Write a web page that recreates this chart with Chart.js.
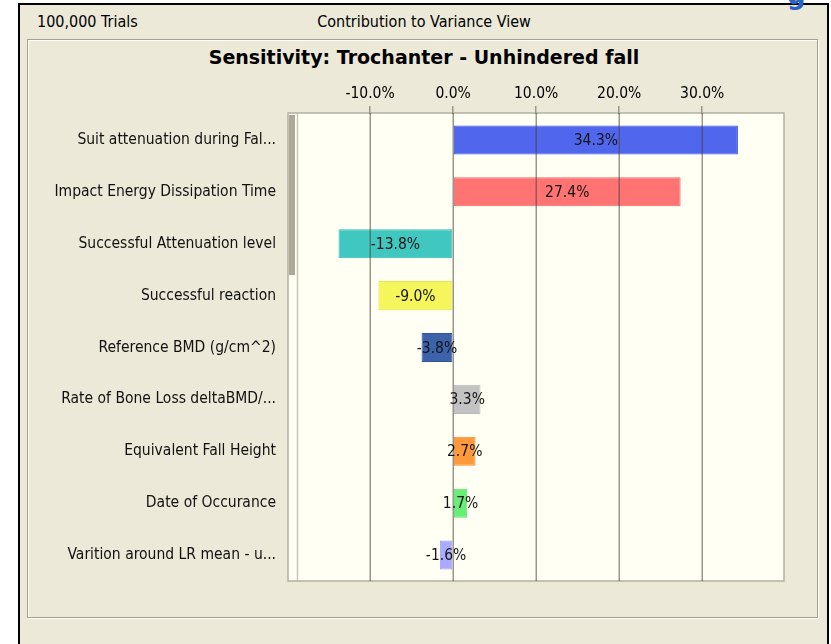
<!DOCTYPE html>
<html>
<head>
<meta charset="utf-8">
<script src="https://cdn.jsdelivr.net/npm/chart.js@4.4.1/dist/chart.umd.min.js"></script>
<style>
  html, body { margin: 0; padding: 0; width: 831px; height: 644px; overflow: hidden; background: #fff; }
  .abs { position: absolute; }
  #frame { left: 18px; top: 3px; width: 807px; height: 700px; border: 2px solid #000; background: #ECE9D8; }
  #heading { left: 787px; top: -20px; font: bold 26px "DejaVu Sans", sans-serif; color: #2B63C4; }
  .hdr { top: 12px; font: 16px "DejaVu Sans Condensed", "DejaVu Sans", sans-serif; color: #000; white-space: nowrap; }
  #trials { left: 37px; }
  #view { left: 224px; width: 400px; text-align: center; }
  #panel { left: 27px; top: 39px; width: 789px; height: 577px; border: 1px solid #A5A292; box-shadow: inset 1px 1px 0 #fff, 1px 1px 0 #fff; }
  #title { left: 124px; width: 600px; top: 46px; text-align: center; font: bold 19px "DejaVu Sans", sans-serif; color: #000; white-space: nowrap; }
  #wrap { left: 28px; top: 40px; width: 792px; height: 577px; }
</style>
</head>
<body>
<div id="frame" class="abs"></div>
<div id="heading" class="abs">g</div>
<div id="trials" class="abs hdr">100,000 Trials</div>
<div id="view" class="abs hdr">Contribution to Variance View</div>
<div id="panel" class="abs"></div>
<div id="title" class="abs">Sensitivity: Trochanter - Unhindered fall</div>
<div id="wrap" class="abs"><canvas id="chart" width="792" height="577"></canvas></div>
<script>
// Assumptions ranked by contribution to variance
const assumptions = [
  "Suit attenuation during Fal...",
  "Impact Energy Dissipation Time",
  "Successful Attenuation level",
  "Successful reaction",
  "Reference BMD (g/cm^2)",
  "Rate of Bone Loss deltaBMD/...",
  "Equivalent Fall Height",
  "Date of Occurance",
  "Varition around LR mean - u..."
];
const contribution = [34.3, 27.4, -13.8, -9.0, -3.8, 3.3, 2.7, 1.7, -1.6];
const barColors = ["#5066EC", "#FF7373", "#40C8C0", "#F5F55C", "#3C62AA", "#C3C3C3", "#FF9A3C", "#66EE77", "#AAAAFF"];
const barEdges  = ["#3E52E2", "#F06666", "#36BBB3", "#E8E850", "#30559E", "#B8B8B8", "#F08C30", "#5AE26A", "#9C9CF2"];
const tickValues = [-10, 0, 10, 20, 30];
const axisMin = -18.8, axisMax = 39.85;

const FONT = '"DejaVu Sans Condensed", "DejaVu Sans", sans-serif';
const pct = v => v.toFixed(1) + '%';

// Cream plot background, left scroll strip and frame around the plot
const plotBackground = {
  id: 'plotBackground',
  beforeDraw(chart) {
    const { ctx, chartArea: a } = chart;
    const top = a.top - 1;
    ctx.save();
    ctx.fillStyle = '#FFFFF3';
    ctx.fillRect(a.left - 9, top, a.right - a.left + 9, a.bottom - top);
    ctx.fillStyle = '#ADA998';
    ctx.fillRect(a.left - 8, top + 2, 6, 160);
    ctx.strokeStyle = '#C9C6B8';
    ctx.lineWidth = 1.5;
    ctx.beginPath();
    ctx.moveTo(a.left + 0.5, top);
    ctx.lineTo(a.left + 0.5, a.bottom);
    ctx.stroke();
    ctx.strokeStyle = '#B3B0A2';
    ctx.lineWidth = 1.5;
    ctx.strokeRect(a.left - 9, top, a.right - a.left + 9, a.bottom - top);
    ctx.restore();
  }
};

// Vertical grid over the bars, then the value printed in each bar
const gridAndValues = {
  id: 'gridAndValues',
  afterDatasetsDraw(chart) {
    const { ctx, chartArea: a } = chart;
    const xs = chart.scales.x;
    ctx.save();
    ctx.strokeStyle = 'rgba(70,66,52,0.55)';
    ctx.lineWidth = 1.5;
    tickValues.forEach(v => {
      const x = Math.round(xs.getPixelForValue(v)) + 0.25;
      ctx.beginPath();
      ctx.moveTo(x, a.top - 1);
      ctx.lineTo(x, a.bottom);
      ctx.stroke();
    });
    ctx.fillStyle = '#151515';
    ctx.font = '15.5px ' + FONT;
    ctx.textAlign = 'center';
    ctx.textBaseline = 'middle';
    chart.getDatasetMeta(0).data.forEach((bar, i) => {
      const cx = (bar.x + bar.base) / 2;
      ctx.fillText(pct(contribution[i]), cx, bar.y + 1);
    });
    ctx.restore();
  }
};

new Chart(document.getElementById('chart'), {
  type: 'bar',
  data: {
    labels: assumptions,
    datasets: [{
      data: contribution,
      backgroundColor: barColors,
      borderColor: barEdges,
      borderWidth: 1,
      borderSkipped: false,
      barPercentage: 0.56,
      categoryPercentage: 1.0
    }]
  },
  options: {
    indexAxis: 'y',
    responsive: false,
    animation: false,
    layout: { padding: { left: 0, right: 36, top: 0, bottom: 36 } },
    plugins: { legend: { display: false }, tooltip: { enabled: false }, title: { display: false } },
    scales: {
      x: {
        position: 'top',
        min: axisMin,
        max: axisMax,
        afterBuildTicks: s => { s.ticks = tickValues.map(v => ({ value: v })); },
        afterFit: s => { s.height = 74; },
        grid: { drawOnChartArea: false, drawTicks: true, tickLength: 8, color: '#9A978A', lineWidth: 1.5 },
        border: { display: false },
        ticks: { callback: v => pct(v), color: '#000', padding: 3, font: { family: FONT, size: 15.5 }, maxRotation: 0 }
      },
      y: {
        afterFit: s => { s.width = 269; },
        grid: { display: false, drawTicks: false },
        border: { display: false },
        ticks: { color: '#111', padding: 21, font: { family: FONT, size: 15.5 } }
      }
    }
  },
  plugins: [plotBackground, gridAndValues]
});
</script>
</body>
</html>
